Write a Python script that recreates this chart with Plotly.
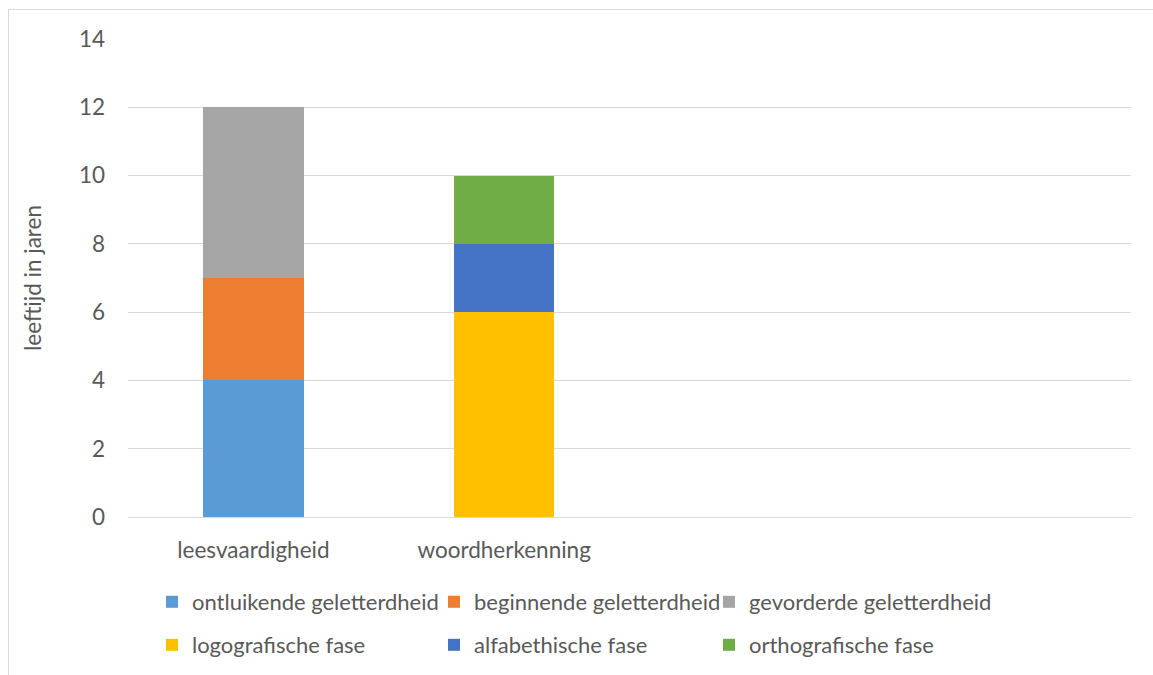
import plotly.graph_objects as go

categories = ["leesvaardigheid", "woordherkenning", " ", "  "]
series_names = ["ontluikende geletterdheid", "beginnende geletterdheid", "gevorderde geletterdheid",
                "logografische fase", "alfabethische fase", "orthografische fase"]
ontluikende = [4, 0, None, None]
beginnende = [3, 0, None, None]
gevorderde = [5, 0, None, None]
logografische = [0, 6, None, None]
alfabethische = [0, 2, None, None]
orthografische = [0, 2, None, None]
y_ticks = [0, 2, 4, 6, 8, 10, 12, 14]

values = [ontluikende, beginnende, gevorderde, logografische, alfabethische, orthografische]
colors = ["#5B9BD5", "#ED7D31", "#A5A5A5", "#FFC000", "#4472C4", "#70AD47"]

FONT = "Lato"
TXT = "#595959"
FS = 22.5
LFS = 22

W, H = 1153, 675
L, R, T, B = 128, 22, 39, 158
pw, ph = W - L - R, H - T - B

def px(x):
    return (x - L) / pw

def py(y):
    return (H - B - y) / ph

# legend grid: 3 columns x 2 rows (pixel positions of each legend entry)
leg_x = [152, 434, 709, 152, 434, 709]
leg_y = [602, 602, 602, 645, 645, 645]

fig = go.Figure()
legend_layouts = {}
for i, (name, vals, col) in enumerate(zip(series_names, values, colors)):
    key = "legend" if i == 0 else f"legend{i + 1}"
    fig.add_trace(go.Bar(
        x=categories, y=vals, name=name, marker=dict(color=col, line=dict(width=0)),
        legend=key, showlegend=True,
    ))
    legend_layouts[key] = dict(orientation="h", xanchor="left", yanchor="middle",
                               x=px(leg_x[i]), y=py(leg_y[i]), visible=True,
                               font=dict(size=LFS, color=TXT), bgcolor="rgba(0,0,0,0)")

fig.update_layout(
    width=W, height=H, showlegend=True,
    margin=dict(l=L, r=R, t=T, b=B, autoexpand=False),
    barmode="stack", bargap=0.6,
    paper_bgcolor="white", plot_bgcolor="white",
    font=dict(family=FONT, color=TXT, size=FS),
    xaxis=dict(showline=False, showgrid=False, ticks="", tickfont=dict(size=FS, color=TXT),
               ticklabelstandoff=17),
    yaxis=dict(range=[0, 14], tickvals=y_ticks, showgrid=True, gridcolor="#D9D9D9", gridwidth=1,
               zeroline=True, zerolinecolor="#D9D9D9", zerolinewidth=1,
               tickfont=dict(size=FS, color=TXT), ticklabelstandoff=22,
               title=dict(text="leeftijd in jaren", font=dict(size=FS, color=TXT), standoff=31)),
    shapes=[dict(type="rect", xref="paper", yref="paper",
                 x0=px(8.5), x1=px(1170), y0=py(690), y1=py(9.5),
                 line=dict(color="#D9D9D9", width=1), fillcolor="rgba(0,0,0,0)", layer="below")],
    **legend_layouts,
)

fig.write_html("out.html")
